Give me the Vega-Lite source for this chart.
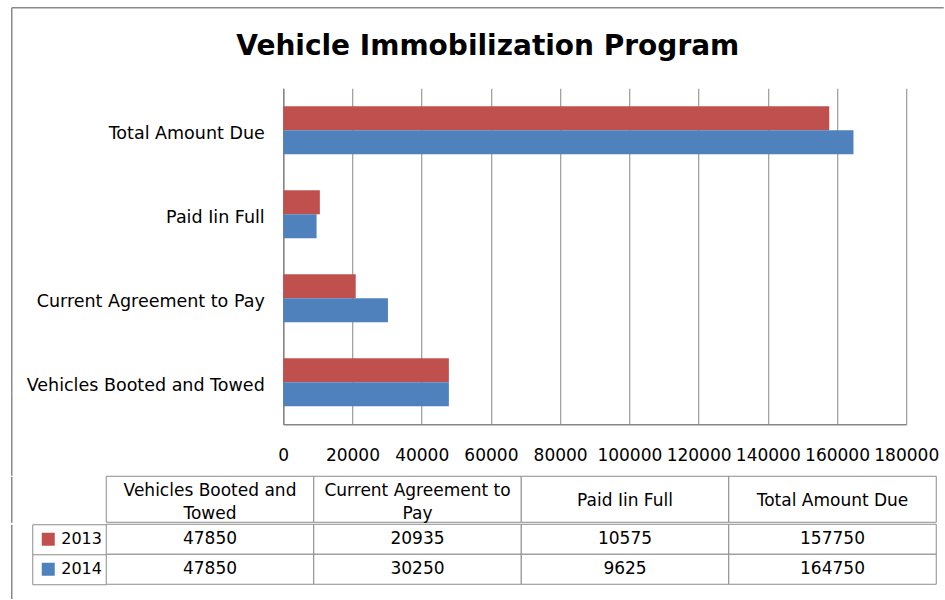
{
  "$schema": "https://vega.github.io/schema/vega-lite/v6.json",
  "padding": {"left": 11.25, "top": 7.25, "right": 0, "bottom": 0},
  "background": "white",
  "title": {"text": "Vehicle Immobilization Program", "font": "DejaVu Sans", "fontSize": 28, "fontWeight": "bold", "color": "#000000", "anchor": "middle", "offset": -53.25, "dx": -37},
  "datasets": {
    "values": [
      {"category": "Vehicles Booted and Towed", "year": "2013", "value": 47850},
      {"category": "Current Agreement to Pay", "year": "2013", "value": 20935},
      {"category": "Paid Iin Full", "year": "2013", "value": 10575},
      {"category": "Total Amount Due", "year": "2013", "value": 157750},
      {"category": "Vehicles Booted and Towed", "year": "2014", "value": 47850},
      {"category": "Current Agreement to Pay", "year": "2014", "value": 30250},
      {"category": "Paid Iin Full", "year": "2014", "value": 9625},
      {"category": "Total Amount Due", "year": "2014", "value": 164750}
    ],
    "columns": [
      {"category": "Vehicles Booted and Towed", "label": "Vehicles Booted and\nTowed"},
      {"category": "Current Agreement to Pay", "label": "Current Agreement to\nPay"},
      {"category": "Paid Iin Full", "label": "Paid Iin Full"},
      {"category": "Total Amount Due", "label": "Total Amount Due"}
    ]
  },
  "spacing": 0,
  "resolve": {
    "scale": {"x": "independent", "y": "independent", "color": "independent"},
    "legend": {"color": "independent"}
  },
  "vconcat": [
    {
      "width": 800,
      "height": 336,
      "data": {"name": "values"},
      "layer": [
        {
          "mark": {"type": "bar"},
          "encoding": {
            "y": {
              "field": "category", "type": "nominal",
              "sort": ["Total Amount Due", "Paid Iin Full", "Current Agreement to Pay", "Vehicles Booted and Towed"],
              "scale": {"paddingInner": 0.43, "paddingOuter": 0.215},
              "axis": {"title": null, "orient": "left", "offset": -177, "labelFont": "DejaVu Sans", "labelFontSize": 17.5, "labelColor": "#000000", "labelPadding": 19, "labelOffset": 3.5, "labelLimit": 400, "ticks": false, "domainColor": "#868686", "domainWidth": 1.5, "minExtent": 270, "maxExtent": 270}
            },
            "x": {
              "field": "value", "type": "quantitative",
              "scale": {"domain": [0, 180000], "nice": false, "range": [177, 800]},
              "axis": {"title": null, "orient": "bottom", "values": [0, 20000, 40000, 60000, 80000, 100000, 120000, 140000, 160000, 180000], "format": "d", "grid": true, "gridColor": "#868686", "gridWidth": 1, "ticks": false, "domainColor": "#868686", "domainWidth": 1.5, "labelFont": "DejaVu Sans", "labelFontSize": 17, "labelColor": "#000000", "labelPadding": 23, "labelFlush": false, "labelOverlap": false, "minExtent": 51, "maxExtent": 51}
            },
            "yOffset": {"field": "year", "type": "nominal", "sort": ["2013", "2014"]},
            "color": {"field": "year", "type": "nominal", "scale": {"domain": ["2013", "2014"], "range": ["#C0504D", "#4F81BD"]}, "legend": null}
          }
        },
        {
          "mark": {"type": "point", "size": 0, "opacity": 0},
          "encoding": {
            "x": {"datum": 0, "type": "quantitative", "scale": {"domain": [0, 1], "range": [-95, 837]}, "axis": {"orient": "top", "offset": 81, "title": null, "labels": false, "ticks": false, "grid": false, "domain": true, "domainColor": "#8a8a8a", "domainWidth": 1.5, "minExtent": 0, "maxExtent": 0}},
            "y": {"datum": 0, "type": "quantitative", "scale": {"domain": [0, 1], "range": [-81, 305]}, "axis": {"orient": "left", "offset": 95, "title": null, "labels": false, "ticks": false, "grid": false, "domain": true, "domainColor": "#8a8a8a", "domainWidth": 1.5, "minExtent": 0, "maxExtent": 0}}
          }
        },
        {
          "mark": {"type": "point", "size": 0, "opacity": 0},
          "encoding": {
            "y": {"datum": 0, "type": "quantitative", "scale": {"domain": [0, 1], "range": [305, 387]}, "axis": {"orient": "left", "offset": 95, "title": null, "labels": false, "ticks": false, "grid": false, "domain": true, "domainColor": "#8a8a8a", "domainWidth": 1.5, "minExtent": 0, "maxExtent": 0}}
          }
        }
      ],
      "resolve": {"scale": {"x": "independent", "y": "independent"}, "axis": {"x": "independent", "y": "independent"}}
    },
    {
      "width": 830,
      "height": 46,
      "data": {"name": "columns"},
      "encoding": {
        "x": {"field": "category", "type": "nominal", "sort": ["Vehicles Booted and Towed", "Current Agreement to Pay", "Paid Iin Full", "Total Amount Due"], "scale": {"paddingInner": 0, "paddingOuter": 0}, "axis": null}
      },
      "layer": [
        {"mark": {"type": "rect", "fill": "white", "stroke": "#8c8c8c", "strokeWidth": 1}},
        {
          "transform": [{"filter": {"field": "category", "oneOf": ["Vehicles Booted and Towed", "Current Agreement to Pay"]}}],
          "mark": {"type": "text", "font": "DejaVu Sans", "fontSize": 17, "color": "#000000", "lineBreak": "\n", "lineHeight": 23, "baseline": "middle", "align": "center", "dy": -8},
          "encoding": {
            "text": {"field": "label", "type": "nominal"},
            "y": {"datum": "h", "type": "nominal", "axis": {"title": null, "labels": false, "ticks": false, "grid": false, "domain": true, "domainColor": "#8a8a8a", "domainWidth": 1.5, "offset": 95, "minExtent": 0, "maxExtent": 0}}
          }
        },
        {
          "transform": [{"filter": {"field": "category", "oneOf": ["Paid Iin Full", "Total Amount Due"]}}],
          "mark": {"type": "text", "font": "DejaVu Sans", "fontSize": 17, "color": "#000000", "baseline": "middle", "align": "center", "dy": 2},
          "encoding": {
            "text": {"field": "label", "type": "nominal"},
            "y": {"datum": "h", "type": "nominal"}
          }
        }
      ]
    },
    {
      "width": 830,
      "height": 60,
      "data": {"name": "values"},
      "encoding": {
        "x": {"field": "category", "type": "nominal", "sort": ["Vehicles Booted and Towed", "Current Agreement to Pay", "Paid Iin Full", "Total Amount Due"], "scale": {"paddingInner": 0, "paddingOuter": 0}, "axis": null}
      },
      "layer": [
        {
          "encoding": {
            "y": {"field": "year", "type": "nominal", "sort": ["2013", "2014"], "scale": {"paddingInner": 0, "paddingOuter": 0}, "axis": {"title": null, "labels": false, "grid": false, "domain": true, "domainColor": "#8c8c8c", "domainWidth": 1, "ticks": true, "tickBand": "extent", "tickSize": -74, "tickColor": "#8c8c8c", "tickWidth": 1, "offset": 74, "minExtent": 19, "maxExtent": 19}}
          },
          "layer": [
            {
              "mark": {"type": "square", "size": 100, "opacity": 1},
              "encoding": {
                "color": {"field": "year", "type": "nominal", "scale": {"domain": ["2013", "2014"], "range": ["#C0504D", "#4F81BD"]},
                  "legend": {"title": null, "orient": "none", "legendX": -66, "legendY": 7, "symbolType": "square", "symbolSize": 169, "symbolStrokeWidth": 0, "symbolOpacity": 1, "labelFont": "DejaVu Sans", "labelFontSize": 16, "labelColor": "#000000", "rowPadding": 14, "labelOffset": 5, "padding": 0}}
              }
            },
            {"mark": {"type": "rect", "fill": "white", "stroke": "#8c8c8c", "strokeWidth": 1}},
            {
              "mark": {"type": "text", "font": "DejaVu Sans", "fontSize": 17, "color": "#000000", "baseline": "middle", "align": "center"},
              "encoding": {"text": {"field": "value", "type": "quantitative", "format": "d"}}
            }
          ]
        },
        {
          "mark": {"type": "point", "size": 0, "opacity": 0},
          "encoding": {
            "y": {"datum": 0, "type": "quantitative", "scale": {"domain": [0, 1], "range": [0, 75]}, "axis": {"orient": "left", "offset": 95, "title": null, "labels": false, "ticks": false, "grid": false, "domain": true, "domainColor": "#8a8a8a", "domainWidth": 1.5, "minExtent": 0, "maxExtent": 0}}
          }
        }
      ],
      "resolve": {"scale": {"y": "independent"}, "axis": {"y": "independent"}}
    }
  ],
  "config": {
    "view": {"stroke": null},
    "font": "DejaVu Sans"
  }
}
